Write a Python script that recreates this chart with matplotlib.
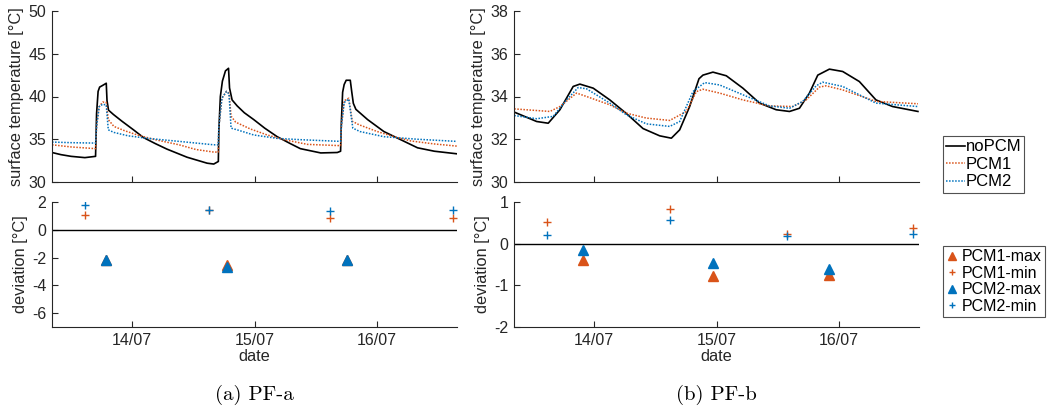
import numpy as np
import matplotlib.pyplot as plt

plt.rcParams['font.family'] = ['Liberation Sans', 'DejaVu Sans']
plt.rcParams['axes.unicode_minus'] = False

# time axis in hours counted from 13/07 00:00
x_lim = (8.25, 87.75)
day_ticks = [24, 48, 72]
day_labels = ['14/07', '15/07', '16/07']

# ---- PF-a surface temperatures
a_nopcm_t = [8.25, 10, 12, 14.7, 16.8, 17.0, 17.3, 17.6, 18.2, 18.9, 19.05, 19.35, 20.3, 22, 24.25, 26.2, 28.5,
             30.8, 34.75, 38.7, 40.0, 40.9, 41.0, 41.3, 41.7, 42.3, 42.9, 43.1, 43.6, 44.6, 46, 47.85, 50,
             52.45, 55, 57.0, 61.0, 64.25, 64.9, 65.05, 65.3, 65.6, 66.0, 66.8, 67.1, 67.4, 67.9, 70.2, 73.4,
             76.7, 80.0, 83.3, 87.7]
a_nopcm_v = [33.45, 33.2, 33.0, 32.85, 33.0, 38.0, 40.6, 41.1, 41.3, 41.55, 39.5, 38.4, 37.9, 37.1, 36.1, 35.2, 34.5,
             33.85, 32.9, 32.2, 32.1, 32.4, 36.0, 40.0, 41.8, 43.0, 43.3, 41.0, 39.6, 38.9, 38.1, 37.3, 36.3,
             35.3, 34.5, 33.9, 33.4, 33.45, 33.6, 37.0, 40.5, 41.4, 41.9, 41.9, 40.5, 39.2, 38.5, 37.3, 35.9,
             34.95, 34.0, 33.6, 33.3]

a_pcm1_t = [8.25, 12, 16.8, 17.0, 17.5, 18.2, 18.9, 19.3, 20.4, 22.5, 25.0, 28.5, 33.2, 36.5, 40.0, 40.9, 41.0,
            41.6, 42.5, 43.0, 43.4, 44.3, 47.2, 50.5, 53.8, 58.4, 64.9, 65.05, 65.6, 66.5, 67.2, 68.5,
            72.1, 75.4, 78.7, 83.3, 87.7]
a_pcm1_v = [34.35, 34.1, 33.9, 36.5, 38.8, 39.35, 39.3, 37.3, 36.5, 36.0, 35.5, 34.95, 34.35, 33.8, 33.5, 33.5, 36.5,
            39.8, 40.6, 40.4, 37.7, 37.0, 36.2, 35.5, 34.95, 34.4, 34.25, 36.5, 39.5, 39.8, 37.1, 36.7,
            35.9, 35.3, 34.8, 34.45, 34.2]

a_pcm2_t = [8.25, 12, 16.8, 17.0, 17.5, 18.2, 18.9, 19.3, 20.4, 23.2, 27.1, 33.2, 40.0, 40.9, 41.0, 41.6, 42.5,
            43.0, 43.4, 44.6, 47.85, 52.45, 57.0, 64.9, 65.05, 65.6, 66.5, 67.3, 68.7, 73.4, 80.0, 87.7]
a_pcm2_v = [34.67, 34.6, 34.55, 36.5, 38.8, 39.1, 39.0, 36.1, 35.8, 35.4, 35.1, 34.75, 34.35, 34.35, 36.5, 39.8, 40.6,
            40.3, 36.3, 36.1, 35.5, 35.1, 34.95, 34.75, 36.5, 39.3, 39.7, 36.3, 35.9, 35.3, 35.0, 34.75]

# ---- PF-a deviations
a_min_t = [14.74, 39.0, 62.9, 87.0]
a_pcm1_min = [1.1, 1.4, 0.87, 0.87]
a_pcm2_min = [1.8, 1.4, 1.35, 1.4]
a_max_t = [18.87, 42.6, 66.2]
a_pcm1_max = [-2.17, -2.5, -2.17]
a_pcm2_max = [-2.2, -2.65, -2.2]

# ---- PF-b surface temperatures
b_nopcm_t = [8.3, 12.7, 14.97, 17.26, 19.87, 21.18, 23.8, 27.06, 30.33, 33.58, 36.85, 39.14, 40.77, 42.73,
             44.56, 45.34, 47.3, 49.92, 53.18, 56.45, 59.72, 62.33, 64.28, 66.24, 67.88, 70.16, 72.77, 76.04,
             79.3, 82.57, 87.54]
b_nopcm_v = [33.27, 32.83, 32.75, 33.38, 34.47, 34.58, 34.39, 33.84, 33.2, 32.5, 32.16, 32.05, 32.44, 33.53,
             34.83, 35.0, 35.14, 34.97, 34.39, 33.69, 33.38, 33.3, 33.45, 34.16, 35.0, 35.28, 35.17, 34.7,
             33.84, 33.53, 33.3]

b_pcm1_t = [8.3, 15.3, 17.26, 20.53, 22.49, 27.06, 30.33, 34.24, 38.81, 42.09, 44.05, 45.34, 48.61, 53.18,
            58.4, 62.97, 65.6, 68.2, 69.5, 72.77, 79.3, 87.54]
b_pcm1_v = [33.42, 33.3, 33.53, 34.16, 34.0, 33.61, 33.22, 32.99, 32.88, 33.3, 34.23, 34.34, 34.16, 33.84,
            33.56, 33.53, 33.84, 34.44, 34.5, 34.31, 33.77, 33.66]

b_pcm2_t = [8.3, 12.7, 15.95, 18.57, 20.85, 22.49, 27.06, 30.33, 34.24, 38.81, 40.77, 43.38, 45.67, 48.61,
            53.18, 58.4, 62.33, 64.93, 67.56, 68.85, 72.77, 79.3, 87.54]
b_pcm2_v = [33.11, 32.96, 33.07, 33.84, 34.42, 34.36, 33.69, 33.14, 32.72, 32.6, 32.83, 34.23, 34.65, 34.54,
            34.08, 33.56, 33.45, 33.77, 34.5, 34.67, 34.47, 33.69, 33.53]

# ---- PF-b deviations
b_min_t = [14.78, 38.95, 61.87, 86.62]
b_pcm1_min = [0.53, 0.84, 0.24, 0.38]
b_pcm2_min = [0.2, 0.57, 0.19, 0.23]
b_max_t = [21.83, 47.3, 70.16]
b_pcm1_max = [-0.38, -0.77, -0.76]
b_pcm2_max = [-0.15, -0.47, -0.61]

black = 'black'
orange = '#D95319'
blue = '#0072BD'
axcol = '#262626'


def style(ax):
    ax.spines['top'].set_visible(False)
    ax.spines['right'].set_visible(False)
    for s in ['left', 'bottom']:
        ax.spines[s].set_color(axcol)
        ax.spines[s].set_linewidth(0.8)
    ax.tick_params(direction='in', length=4, colors=axcol, labelsize=11.5, width=0.8, pad=4)
    ax.set_xlim(*x_lim)
    ax.set_xticks(day_ticks)


fig = plt.figure(figsize=(10.47, 4.12), dpi=100)

W, H = 1047, 412
panels = [
    (52, a_nopcm_t, a_nopcm_v, a_pcm1_t, a_pcm1_v, a_pcm2_t, a_pcm2_v, (30, 50), np.arange(30, 51, 5),
     a_min_t, a_pcm1_min, a_pcm2_min, a_max_t, a_pcm1_max, a_pcm2_max, (-7, 2), np.arange(-6, 3, 2), '(a) PF-a'),
    (514, b_nopcm_t, b_nopcm_v, b_pcm1_t, b_pcm1_v, b_pcm2_t, b_pcm2_v, (30, 38), np.arange(30, 39, 2),
     b_min_t, b_pcm1_min, b_pcm2_min, b_max_t, b_pcm1_max, b_pcm2_max, (-2, 1), np.arange(-2, 2, 1), '(b) PF-b'),
]

for (x0, nt, nv, p1t, p1v, p2t, p2v, ylim1, yt1, mint, p1min, p2min, maxt, p1max, p2max,
     ylim2, yt2, caption) in panels:
    ax1 = fig.add_axes([x0 / W, (H - 182) / H, 405 / W, 171 / H])
    l0, = ax1.plot(nt, nv, color=black, lw=1.2, label='noPCM')
    l1, = ax1.plot(p1t, p1v, color=orange, lw=1.1, ls=(0, (1, 1)), label='PCM1')
    l2, = ax1.plot(p2t, p2v, color=blue, lw=1.1, ls=(0, (1, 1)), label='PCM2')
    style(ax1)
    ax1.set_ylim(*ylim1)
    ax1.set_yticks(yt1)
    ax1.set_xticklabels([])
    ax1.set_ylabel('surface temperature [°C]', fontsize=11.75, color=axcol, labelpad=3)

    ax2 = fig.add_axes([x0 / W, (H - 327) / H, 405 / W, 125 / H])
    ax2.axhline(0, color=black, lw=1)
    m1, = ax2.plot(maxt, p1max, '^', color=orange, ms=7, ls='none', label='PCM1-max')
    m2, = ax2.plot(mint, p1min, '+', color=orange, ms=6, mew=1, ls='none', label='PCM1-min')
    m3, = ax2.plot(maxt, p2max, '^', color=blue, ms=7, ls='none', label='PCM2-max')
    m4, = ax2.plot(mint, p2min, '+', color=blue, ms=6, mew=1, ls='none', label='PCM2-min')
    style(ax2)
    ax2.set_ylim(*ylim2)
    ax2.set_yticks(yt2)
    ax2.set_xticklabels(day_labels)
    ax2.set_xlabel('date', fontsize=11.75, color=axcol, labelpad=1)
    ax2.set_ylabel('deviation [°C]', fontsize=11.75, color=axcol, labelpad=3)

    fig.text((x0 + 202) / W, (H - 395) / H, caption, family='cmr10', fontsize=15,
             ha='center', va='center')

leg1 = fig.legend(handles=[l0, l1, l2], loc='upper left', bbox_to_anchor=(943 / W, (H - 136) / H),
                  fontsize=12, frameon=True, fancybox=False, edgecolor=axcol, handlelength=1.1,
                  handletextpad=0.05, borderpad=0.2, labelspacing=0.15, borderaxespad=0)
leg1.get_frame().set_linewidth(0.8)
leg2 = fig.legend(handles=[m1, m2, m3, m4], loc='upper left', bbox_to_anchor=(943 / W, (H - 246) / H),
                  fontsize=11.5, frameon=True, fancybox=False, edgecolor=axcol, handlelength=0.7,
                  handletextpad=0.3, borderpad=0.2, labelspacing=0.1, borderaxespad=0,
                  markerscale=0.8)
leg2.get_frame().set_linewidth(0.8)

fig.savefig('out.png', dpi=100)
